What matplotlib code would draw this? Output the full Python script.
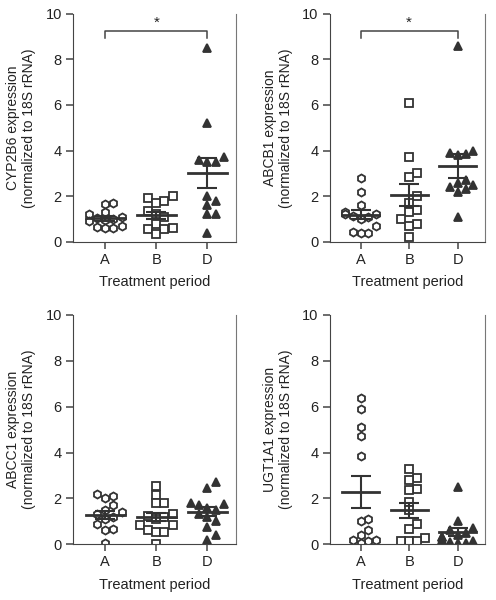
import numpy as np
import matplotlib
matplotlib.use('Agg')
import matplotlib.pyplot as plt

plt.rcParams['font.family'] = ['Liberation Sans', 'DejaVu Sans']

groups = ['A', 'B', 'D']

# CYP2B6
cyp2b6_a = [1.7, 1.65, 1.3, 1.2, 1.1, 1.05, 1.0, 0.95, 0.9, 0.65, 0.6, 0.6, 0.7]
cyp2b6_b = [2.0, 1.9, 1.8, 1.7, 1.35, 1.2, 1.1, 0.8, 0.6, 0.55, 0.55, 0.35]
cyp2b6_d = [8.5, 5.2, 3.7, 3.6, 3.5, 3.5, 2.0, 1.8, 1.6, 1.2, 1.2, 0.4]

# ABCB1
abcb1_a = [2.8, 2.2, 1.6, 1.3, 1.2, 1.2, 1.15, 1.1, 1.0, 0.7, 0.45, 0.4, 0.4]
abcb1_b = [6.1, 3.7, 3.0, 2.85, 2.0, 1.7, 1.4, 1.3, 1.0, 0.8, 0.7, 0.2]
abcb1_d = [8.6, 4.0, 3.9, 3.85, 3.8, 2.7, 2.6, 2.5, 2.4, 2.3, 2.2, 1.1]

# ABCC1
abcc1_a = [2.2, 2.1, 2.0, 1.7, 1.5, 1.4, 1.3, 1.2, 1.1, 0.9, 0.65, 0.6, 0.05]
abcc1_b = [2.55, 2.15, 1.8, 1.8, 1.3, 1.25, 1.2, 1.1, 0.85, 0.85, 0.6, 0.55, 0.55, 0.0]
abcc1_d = [2.7, 2.45, 1.8, 1.75, 1.7, 1.6, 1.5, 1.3, 1.2, 1.0, 0.75, 0.4, 0.2]

# UGT1A1
ugt1a1_a = [6.4, 5.9, 5.1, 4.7, 3.85, 1.1, 1.0, 0.6, 0.4, 0.2, 0.15, 0.2, 0.05]
ugt1a1_b = [3.3, 2.9, 2.8, 2.4, 2.35, 1.85, 1.5, 0.9, 0.65, 0.25, 0.15, 0.15, 0.15]
ugt1a1_d = [2.5, 1.0, 0.7, 0.6, 0.5, 0.4, 0.3, 0.3, 0.2, 0.15, 0.1, 0.05, 0.05]

panels = [
    ('CYP2B6', [cyp2b6_a, cyp2b6_b, cyp2b6_d], True),
    ('ABCB1', [abcb1_a, abcb1_b, abcb1_d], True),
    ('ABCC1', [abcc1_a, abcc1_b, abcc1_d], False),
    ('UGT1A1', [ugt1a1_a, ugt1a1_b, ugt1a1_d], False),
]

# axes rectangles in figure fractions
rects = [
    [0.147, 0.597, 0.329, 0.380],
    [0.665, 0.597, 0.313, 0.380],
    [0.147, 0.093, 0.329, 0.382],
    [0.665, 0.093, 0.313, 0.382],
]

markers = ['h', 's', '^']
faces = ['white', 'white', '#333333']
dark = '#333333'


def swarm(vals, dx=0.16, dy=0.34):
    # simple beeswarm: place each point at the first free horizontal offset
    placed = []
    offs = np.zeros(len(vals))
    order = np.argsort(vals)
    for i in order:
        v = vals[i]
        for k in [0, 1, -1, 2, -2, 3, -3, 4, -4]:
            o = k * dx * 0.5
            if all((abs(o - po) >= dx or abs(v - pv) >= dy) for po, pv in placed):
                break
        placed.append((o, v))
        offs[i] = o
    return offs


fig = plt.figure(figsize=(4.96, 6), dpi=100)

for (name, data, star), rect in zip(panels, rects):
    ax = fig.add_axes(rect)
    for j, vals in enumerate(data):
        vals = np.array(vals)
        xs = j + swarm(vals)
        ax.plot(xs, vals, linestyle='none', marker=markers[j], markersize=5.8,
                markerfacecolor=faces[j], markeredgecolor=dark, markeredgewidth=1.3,
                zorder=2)
        m = vals.mean()
        se = vals.std(ddof=1) / np.sqrt(len(vals))
        ax.plot([j - 0.38, j + 0.38], [m, m], color=dark, lw=2, zorder=3)
        ax.errorbar(j, m, yerr=se, fmt='none', ecolor=dark, elinewidth=1.5,
                    capsize=7, capthick=1.5, zorder=3)
    if star:
        ax.plot([0, 0, 2, 2], [8.95, 9.25, 9.25, 8.95], color='#444444', lw=1.1)
        ax.text(1, 9.3, '*', ha='center', va='bottom', fontsize=11, color='#222222')
    ax.set_xlim(-0.63, 2.56)
    ax.set_ylim(0, 10)
    ax.set_xticks(range(3))
    ax.set_xticklabels(groups)
    ax.set_yticks(range(0, 11, 2))
    ax.spines['top'].set_visible(False)
    ax.spines['right'].set_color('#777777')
    ax.spines['left'].set_color('#444444')
    ax.spines['bottom'].set_color('#444444')
    ax.tick_params(direction='out', length=5, width=1.1, color='#444444',
                   labelsize=10.5, labelcolor='#222222', pad=3)
    ax.set_xlabel('Treatment period', fontsize=10.5, color='#222222', labelpad=6)
    ax.set_ylabel(name + ' expression\n(normalized to 18S rRNA)', fontsize=10,
                  color='#222222', labelpad=7, linespacing=1.15)

plt.savefig('out.png', dpi=100)
